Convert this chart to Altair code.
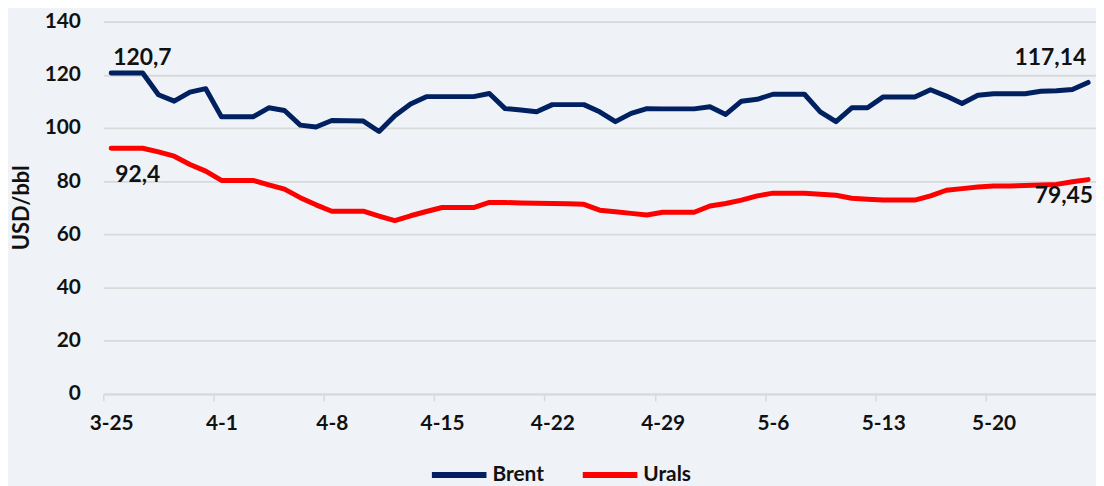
import altair as alt
import pandas as pd

# ---- data ----
start_date = "2022-03-25"
n_days = 63
dates = pd.date_range(start_date, periods=n_days, freq="D")
date_str = dates.strftime("%Y-%m-%dT00:00:00").tolist()

series_names = ["Brent", "Urals"]
series_colors = ["#002060", "#ff0000"]

brent = [120.7, 120.7, 120.7, 112.5, 110.1, 113.5, 114.8, 104.2, 104.2, 104.2,
         107.6, 106.6, 101.1, 100.4, 102.8, 102.7, 102.6, 98.7, 104.6, 109.0,
         111.8, 111.8, 111.8, 111.8, 113.0, 107.3, 106.8, 106.1, 108.8, 108.8,
         108.8, 106.1, 102.4, 105.5, 107.3, 107.2, 107.2, 107.2, 108.0, 105.1,
         110.1, 110.8, 112.7, 112.7, 112.7, 106.1, 102.4, 107.6, 107.6, 111.7,
         111.7, 111.7, 114.4, 112.0, 109.2, 112.3, 112.9, 112.9, 112.9, 113.8,
         114.0, 114.5, 117.14]

urals = [92.4, 92.4, 92.4, 91.0, 89.4, 86.3, 83.8, 80.3, 80.3, 80.3,
         78.6, 77.0, 73.8, 71.1, 68.7, 68.7, 68.7, 66.9, 65.2, 67.0,
         68.6, 70.1, 70.1, 70.1, 72.0, 72.0, 71.8, 71.7, 71.6, 71.5,
         71.3, 69.1, 68.5, 67.9, 67.3, 68.3, 68.3, 68.3, 70.7, 71.6,
         72.9, 74.5, 75.5, 75.5, 75.5, 75.1, 74.7, 73.6, 73.2, 72.9,
         72.9, 72.9, 74.5, 76.6, 77.2, 77.8, 78.2, 78.2, 78.4, 78.6,
         78.8, 79.8, 80.6]

y_ticks = [0, 20, 40, 60, 80, 100, 120, 140]
x_tick_dates = dates[::7]          # 3-25, 4-1, ... 5-20
end_labels = ["120,7", "92,4", "117,14", "79,45"]

FONT = "Lato"
TXT = "#111111"
GRID = "#d9d9d9"
BG = "#eff3f7"

# ---- tables ----
df = pd.DataFrame({
    "date": date_str * 2,
    "value": brent + urals,
    "series": ["Brent"] * n_days + ["Urals"] * n_days,
})

x_values = [alt.DateTime(year=d.year, month=d.month, date=d.day) for d in x_tick_dates]
x_domain = [
    alt.DateTime(year=2022, month=3, date=24, hours=12),
    alt.DateTime(year=2022, month=5, date=26, hours=12),
]

x_enc = alt.X(
    "date:T",
    scale=alt.Scale(domain=x_domain),
    axis=alt.Axis(
        values=x_values, format="%-m-%-d", title=None, grid=False,
        domainColor=GRID, domainWidth=2, tickColor=GRID, tickWidth=1.5,
        tickSize=7, tickOffset=-7.94, labelOffset=7.94, labelPadding=12,
        labelFont=FONT, labelFontSize=21, labelFontWeight="bold",
        labelColor=TXT, labelFlush=False, labelOverlap=False,
    ),
)
y_scale = alt.Scale(domain=[0, 140], nice=False, zero=True)
y_enc = alt.Y(
    "value:Q",
    scale=y_scale,
    axis=alt.Axis(
        values=y_ticks, title="USD/bbl", domain=False, ticks=False,
        grid=True, gridColor=GRID, gridWidth=1.8, labelPadding=23,
        labelFont=FONT, labelFontSize=21, labelFontWeight="bold", labelColor=TXT,
        titleFont=FONT, titleFontSize=22, titleFontWeight="bold", titleColor=TXT,
        titleAngle=270, titleX=-82, titleY=187, titleAlign="center",
        titleBaseline="middle",
    ),
)

lines = alt.Chart(df).mark_line(
    strokeWidth=5, strokeCap="round", strokeJoin="round"
).encode(
    x=x_enc,
    y=y_enc,
    color=alt.Color(
        "series:N",
        scale=alt.Scale(domain=series_names, range=series_colors),
        legend=alt.Legend(
            title=None, orient="none", direction="horizontal",
            legendX=328, legendY=426,
            symbolType="stroke", symbolSize=3025, symbolStrokeWidth=6,
            labelFont=FONT, labelFontSize=21, labelFontWeight="bold",
            labelColor=TXT, labelOffset=3, columnPadding=27,
        ),
    ),
)

label_specs = [
    (date_str[0], brent[0], end_labels[0], "left", 2, -15),
    (date_str[0], urals[0], end_labels[1], "left", 4, 27),
    (date_str[-1], brent[-1], end_labels[2], "right", -2, -25),
    (date_str[-1], urals[-1], end_labels[3], "right", 5, 17),
]
texts = []
for d, v, t, al, dx, dy in label_specs:
    tdf = pd.DataFrame({"date": [d], "value": [v], "label": [t]})
    texts.append(
        alt.Chart(tdf).mark_text(
            align=al, baseline="middle", dx=dx, dy=dy, font=FONT,
            fontSize=23, fontWeight="bold", color=TXT,
        ).encode(
            x=alt.X("date:T", scale=alt.Scale(domain=x_domain)),
            y=alt.Y("value:Q", scale=y_scale),
            text="label:N",
        )
    )

chart = alt.layer(lines, *texts).properties(
    width=1000,
    height=375,
    autosize=alt.AutoSizeParams(type="none"),
    padding={"left": 96, "top": 12, "right": 0, "bottom": 91},
    background=BG,
).configure_view(stroke=None)

chart.save("out.html", embed_options={"renderer": "svg", "actions": False})
